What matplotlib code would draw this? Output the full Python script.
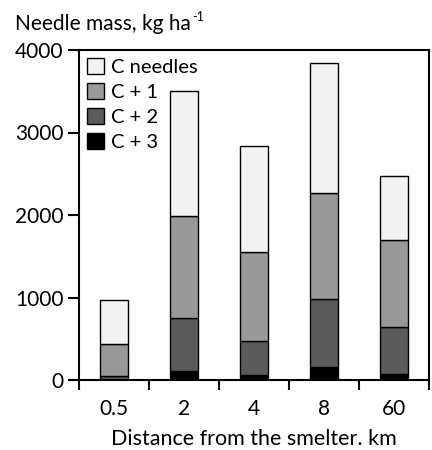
import numpy as np
import matplotlib
matplotlib.use("Agg")
import matplotlib.pyplot as plt
from matplotlib.patches import Patch

plt.rcParams['font.family'] = ['Lato', 'DejaVu Sans']

# distances and needle mass per age class (kg/ha)
distances = ["0.5", "2", "4", "8", "60"]
c3 = [5, 105, 65, 162, 73]
c2 = [47, 642, 408, 816, 573]
c1 = [384, 1245, 1083, 1293, 1047]
c0 = [534, 1515, 1280, 1567, 784]

series = [c3, c2, c1, c0]
labels = ["C + 3", "C + 2", "C + 1", "C needles"]
colors = ["#000000", "#5a5a5a", "#999999", "#f2f2f2"]

fig = plt.figure(figsize=(4.32, 4.5), dpi=100)
ax = fig.add_axes([79/432, 1-380/450, 350/432, 330/450])

x = np.arange(len(distances))
bottom = np.zeros(len(distances))
for vals, lab, col in zip(series, labels, colors):
    ax.bar(x, vals, width=0.4, bottom=bottom, color=col, edgecolor="black",
           linewidth=1.0, label=lab)
    bottom += np.array(vals)

ax.set_xlim(-0.5, len(distances)-0.5)
ax.set_ylim(0, 4000)
ax.set_yticks([0, 1000, 2000, 3000, 4000])
ax.set_xticks(np.arange(-0.5, len(distances)), minor=False)
ax.set_xticklabels([])
ax.set_xticks(x, minor=True)
ax.set_xticklabels(distances, minor=True)
ax.tick_params(axis="x", which="major", direction="out", length=7, width=1.5)
ax.tick_params(axis="x", which="minor", length=0, labelsize=15, pad=14)
ax.tick_params(axis="y", direction="out", length=8, width=1.5, labelsize=15, pad=3)
for sp in ax.spines.values():
    sp.set_linewidth(1.5)

ax.set_xlabel("Distance from the smelter. km", fontsize=15.5, labelpad=7)

# y-axis title with a small superscript "-1"
t = fig.text(15/432, 1-24/450, "Needle mass, kg ha", fontsize=15,
             va="center", ha="left")
fig.canvas.draw()
bb = t.get_window_extent().transformed(fig.transFigure.inverted())
fig.text(bb.x1 + 1/432, 1-17/450, "-1", fontsize=9, va="center", ha="left")

handles = [Patch(facecolor=c, edgecolor="black", linewidth=1.0) for c in colors[::-1]]
ax.legend(handles, labels[::-1], loc="upper left", frameon=False, fontsize=14.5,
          handlelength=0.85, handleheight=0.85, handletextpad=0.35, labelspacing=0.35,
          borderaxespad=0.2, borderpad=0.2)

fig.savefig("out.png", dpi=100)
